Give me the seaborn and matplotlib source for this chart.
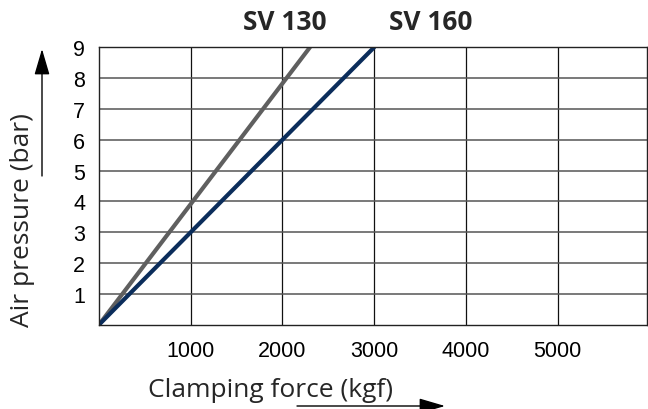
import matplotlib
matplotlib.use("Agg")
import matplotlib.pyplot as plt
import pandas as pd
import seaborn as sns

# force (kgf) vs air pressure (bar) for the two models
models = ["SV 130", "SV 160"]
sv130_force = [0, 2300]
sv160_force = [0, 3000]
pressure = [0, 9]
x_ticks = [1000, 2000, 3000, 4000, 5000]
y_ticks = [1, 2, 3, 4, 5, 6, 7, 8, 9]

df = pd.DataFrame({
    "force": sv130_force + sv160_force,
    "pressure": pressure + pressure,
    "model": [models[0]] * 2 + [models[1]] * 2,
})

sns.set_style("white")
plt.rcParams["font.family"] = ["Liberation Sans", "DejaVu Sans"]

fig = plt.figure(figsize=(6.48, 4.10), dpi=100)
ax = fig.add_axes([0.1528, 0.2056, 0.9977 - 0.1528, 0.8822 - 0.2056])

sns.lineplot(data=df, x="force", y="pressure", hue="model",
             palette={"SV 130": "#5f5f5f", "SV 160": "#0b2d5b"},
             linewidth=3.0, legend=False, ax=ax)

ax.set_xlim(0, 5970)
ax.set_ylim(0, 9)
ax.set_xticks(x_ticks)
ax.set_yticks(y_ticks)
ax.grid(True, axis="x", color="#111111", linewidth=0.9)
ax.grid(True, axis="y", color="#555555", linewidth=1.1)
ax.set_axisbelow(True)
for s in ax.spines.values():
    s.set_visible(True)
    s.set_color("#222222")
    s.set_linewidth(1.0)
ax.tick_params(axis="both", length=0, labelsize=15.5, colors="black")
ax.tick_params(axis="x", pad=11)
ax.tick_params(axis="y", pad=10)
ax.set_xlabel("")
ax.set_ylabel("")

# axis titles with arrows
fig.text(270 / 648, 1 - 391 / 410, "Clamping force (kgf)", ha="center", va="center",
         fontsize=19, family="Open Sans")
fig.text(23 / 648, 1 - 220 / 410, "Air pressure (bar)", ha="center", va="center",
         rotation=90, fontsize=19, family="Open Sans")

arrow = dict(arrowstyle="-|>,head_length=1.6,head_width=0.47", color="black",
             lw=1.0, mutation_scale=10, shrinkA=0, shrinkB=0)
ax.annotate("", xy=(445 / 648, 1 - 407 / 410), xytext=(297 / 648, 1 - 407 / 410),
            xycoords="figure fraction", textcoords="figure fraction", arrowprops=arrow)
ax.annotate("", xy=(42 / 648, 1 - 50 / 410), xytext=(42 / 648, 1 - 177 / 410),
            xycoords="figure fraction", textcoords="figure fraction", arrowprops=arrow)

# series names above the plot
fig.text(285 / 648, 1 - 23 / 410, models[0], ha="center", va="center",
         fontsize=19, fontweight="bold", family="Open Sans")
fig.text(431 / 648, 1 - 23 / 410, models[1], ha="center", va="center",
         fontsize=19, fontweight="bold", family="Open Sans")

fig.savefig("out.png", dpi=100)
